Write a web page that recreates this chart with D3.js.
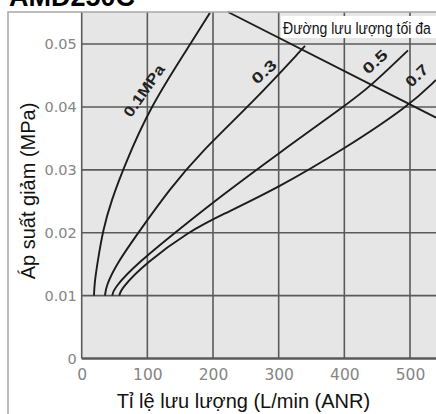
<!DOCTYPE html>
<html><head><meta charset="utf-8">
<script src="https://cdn.jsdelivr.net/npm/d3@7"></script>
<style>html,body{margin:0;padding:0;background:#fff;overflow:hidden}svg{display:block}</style>
</head><body>
<svg id="chart" width="436" height="414"></svg>
<script>
// ---------- data ----------
const chartTitle = "AMD250C";
const xTitle = "Tỉ lệ lưu lượng (L/min (ANR)";
const yTitle = "Áp suất giảm (MPa)";
const maxFlowLabel = "Đường lưu lượng tối đa";
const xTicks = [0, 100, 200, 300, 400, 500];
const yTicks = [0, 0.01, 0.02, 0.03, 0.04, 0.05];
const yTickLabels = ["0", "0.01", "0.02", "0.03", "0.04", "0.05"];
const seriesNames = ["0.1MPa", "0.3", "0.5", "0.7"];

const flow01 = [18.7, 19.5, 24.0, 32.4, 45.5, 64.4, 104.0, 164.9, 195.4];
const drop01 = [0.0100, 0.0120, 0.0152, 0.0205, 0.0252, 0.0305, 0.0400, 0.0499, 0.0550];
const flow03 = [35.5, 37.0, 53.3, 88.8, 134.5, 180.2, 263.9, 340.1];
const drop03 = [0.0100, 0.0115, 0.0151, 0.0204, 0.0270, 0.0327, 0.0411, 0.0497];
const flow05 = [46.6, 49.0, 84.2, 146.7, 210.6, 302.0, 401.0, 439.1, 497.0];
const drop05 = [0.0100, 0.0112, 0.0151, 0.0204, 0.0257, 0.0328, 0.0402, 0.0432, 0.0490];
const flow07 = [57.3, 60.0, 96.4, 164.9, 210.6, 302.0, 399.5, 500.0, 539.6];
const drop07 = [0.0100, 0.0111, 0.0151, 0.0203, 0.0227, 0.0273, 0.0333, 0.0403, 0.0443];
const flowMax = [222.8, 539.6];
const dropMax = [0.0551, 0.0383];

// label anchor points (data units)
const labelFlow = [94.9, 277.6, 446.7, 510.2];
const labelDrop = [0.0426, 0.0456, 0.0472, 0.0450];

// ---------- drawing ----------
const svg = d3.select("#chart");
const W = 436, H = 414;
const x = d3.scaleLinear().domain([0, 539.6]).range([81.7, 436]);
const y = d3.scaleLinear().domain([0, 0.0551]).range([358.5, 12]);

const FONT = "'Liberation Sans', Arial, sans-serif";

svg.append("rect").attr("width", W).attr("height", H).attr("fill", "#fff");

// title (cropped at the top, as in the source image)
svg.append("text").attr("x", 9).attr("y", 6)
  .attr("font-family", FONT).attr("font-weight", "bold").attr("font-size", 27)
  .attr("fill", "#000").text(chartTitle);

// plot background
svg.append("rect").attr("x", x(0)).attr("y", y.range()[1])
  .attr("width", x.range()[1] - x(0)).attr("height", y(0) - y.range()[1])
  .attr("fill", "#e6e6e6");

// grid
const grid = svg.append("g").attr("stroke", "#5a5a5a").attr("stroke-width", 1.6);
grid.selectAll("line.v").data(xTicks).join("line")
  .attr("x1", d => x(d)).attr("x2", d => x(d))
  .attr("y1", y.range()[1]).attr("y2", y(0));
grid.selectAll("line.h").data(yTicks).join("line")
  .attr("x1", x(0)).attr("x2", x.range()[1])
  .attr("y1", d => y(d)).attr("y2", d => y(d))
  .attr("stroke-width", d => d === 0 ? 2.4 : 1.6);

// axes (tick labels only)
const yAxis = d3.axisLeft(y).tickValues(yTicks).tickSize(0).tickPadding(5)
  .tickFormat((d, i) => yTickLabels[i]);
const gy = svg.append("g").attr("transform", `translate(${x(0)},0)`).call(yAxis);
gy.select(".domain").remove();
gy.selectAll("text").attr("font-family", "'DejaVu Sans', sans-serif")
  .attr("font-size", 14.5).attr("fill", "#858585");

const xAxis = d3.axisBottom(x).tickValues(xTicks).tickSize(0).tickPadding(10)
  .tickFormat(d3.format("d"));
const gx = svg.append("g").attr("transform", `translate(0,${y(0)})`).call(xAxis);
gx.select(".domain").remove();
gx.selectAll("text").attr("font-family", "'DejaVu Sans', sans-serif")
  .attr("font-size", 15.5).attr("fill", "#858585");

// curves
const line = d3.line().x(d => x(d[0])).y(d => y(d[1])).curve(d3.curveBasis);
const series = [
  d3.zip(flow01, drop01), d3.zip(flow03, drop03),
  d3.zip(flow05, drop05), d3.zip(flow07, drop07)
];
svg.append("g").selectAll("path").data(series).join("path")
  .attr("d", line).attr("fill", "none").attr("stroke", "#1c1c1c")
  .attr("stroke-width", 1.9);

svg.append("path").datum(d3.zip(flowMax, dropMax))
  .attr("d", d3.line().x(d => x(d[0])).y(d => y(d[1])))
  .attr("fill", "none").attr("stroke", "#1c1c1c").attr("stroke-width", 1.9);

// curve labels
const labelRotate = [-55, -42, -42, -44];
const labelLen = [60, 28, 28, 25];
svg.append("g").selectAll("text").data(seriesNames).join("text")
  .attr("transform", (d, i) => `translate(${x(labelFlow[i])},${y(labelDrop[i])}) rotate(${labelRotate[i]})`)
  .attr("text-anchor", "middle").attr("dy", "0.35em")
  .attr("font-family", FONT).attr("font-weight", "bold").attr("font-size", 15)
  .attr("fill", "#222")
  .attr("textLength", (d, i) => labelLen[i]).attr("lengthAdjust", "spacingAndGlyphs")
  .text(d => d);

// max flow label box
svg.append("rect").attr("x", 281).attr("y", 16).attr("width", 155).attr("height", 22)
  .attr("fill", "#fff");
const lg = svg.append("g");
const lt = lg.append("text").attr("x", 0).attr("y", 0)
  .attr("font-family", FONT).attr("font-size", 17).attr("fill", "#111")
  .text(maxFlowLabel);
const natural = lt.node().getComputedTextLength();
lg.attr("transform", `translate(283,34) scale(${148 / natural},1)`);

// axis titles
svg.append("text").attr("x", 243.5).attr("y", 408)
  .attr("text-anchor", "middle").attr("font-family", FONT).attr("font-size", 20)
  .attr("fill", "#111").text(xTitle);
svg.append("text").attr("transform", "translate(35,191) rotate(-90)")
  .attr("text-anchor", "middle").attr("font-family", FONT).attr("font-size", 20)
  .attr("fill", "#111").text(yTitle);

// outer frame
svg.append("path").attr("d", `M8,${H} V12 H${W}`)
  .attr("fill", "none").attr("stroke", "#a8a8a8").attr("stroke-width", 1.5);
</script>
</body></html>
